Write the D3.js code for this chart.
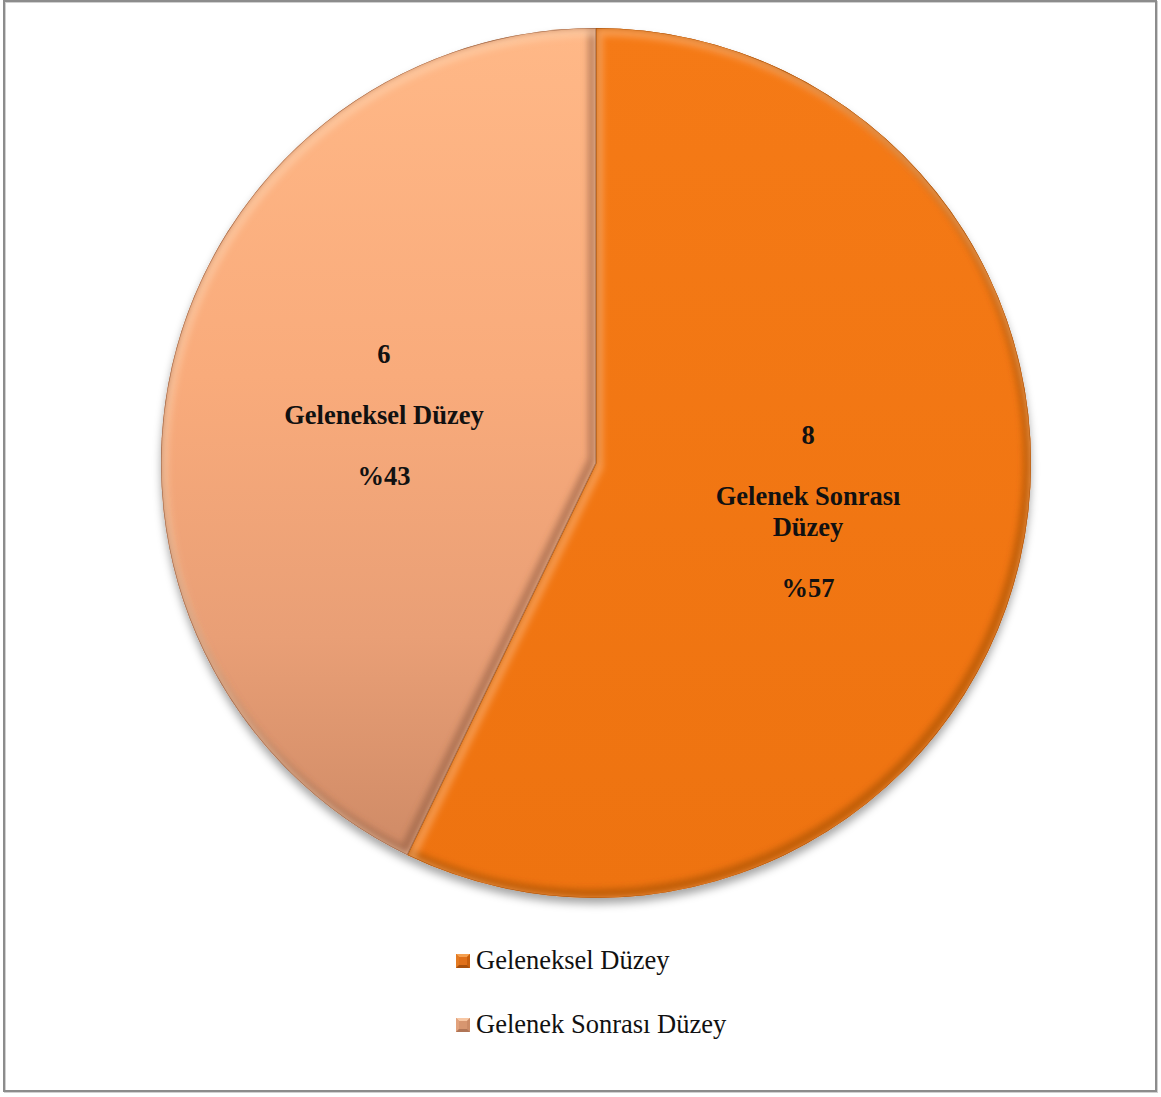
<!DOCTYPE html>
<html>
<head>
<meta charset="utf-8">
<script src="https://cdn.jsdelivr.net/npm/d3@7"></script>
<style>
  html, body { margin: 0; padding: 0; background: #fff; }
  svg { display: block; }
</style>
</head>
<body>
<svg id="chart" width="1161" height="1097"></svg>
<script>
// Slice values (clockwise from 12 o'clock)
const values = [8, 6];
// Text written inside each slice
const sliceLabels = ["Gelenek Sonrası Düzey", "Geleneksel Düzey"];
// Legend entries
const legendNames = ["Geleneksel Düzey", "Gelenek Sonrası Düzey"];

const svg = d3.select("#chart");
const W = 1161, H = 1097;
const cx = 596, cy = 463, R = 435;
const FONT = "'Liberation Serif', 'Times New Roman', serif";

const defs = svg.append("defs");

// Frame around the chart area
svg.append("rect").attr("x", 5).attr("y", 2).attr("width", W - 9).attr("height", H - 7)
  .attr("fill", "none").attr("stroke", "#d0d0d0").attr("stroke-width", 2);
svg.append("rect").attr("x", 4).attr("y", 1).attr("width", W - 9).attr("height", H - 7)
  .attr("fill", "none").attr("stroke", "#8c8c8c").attr("stroke-width", 2);

// Gradients (slice paths are drawn in pie-centred coordinates)
const gOrange = defs.append("linearGradient").attr("id", "gOrange")
  .attr("gradientUnits", "userSpaceOnUse")
  .attr("x1", 0).attr("y1", -R).attr("x2", 0).attr("y2", R);
gOrange.append("stop").attr("offset", "0%").attr("stop-color", "#f57a16");
gOrange.append("stop").attr("offset", "100%").attr("stop-color", "#ee7310");

const gPeach = defs.append("linearGradient").attr("id", "gPeach")
  .attr("gradientUnits", "userSpaceOnUse")
  .attr("x1", 0).attr("y1", -R).attr("x2", 0).attr("y2", R);
gPeach.append("stop").attr("offset", "0%").attr("stop-color", "#ffb887");
gPeach.append("stop").attr("offset", "40%").attr("stop-color", "#f9ab7b");
gPeach.append("stop").attr("offset", "70%").attr("stop-color", "#e99f76");
gPeach.append("stop").attr("offset", "92%").attr("stop-color", "#d28d68");
gPeach.append("stop").attr("offset", "100%").attr("stop-color", "#c98462");

const fills = ["url(#gOrange)", "url(#gPeach)"];
const edgeDark = ["#9a4a08", "#8d5a3e"];
const edgeLight = ["#ffc08a", "#ffd9b8"];

// Shadow and bevel filters
const shadow = defs.append("filter").attr("id", "shadow")
  .attr("x", "-10%").attr("y", "-10%").attr("width", "120%").attr("height", "120%");
shadow.append("feDropShadow").attr("dx", 0).attr("dy", 6).attr("stdDeviation", 4)
  .attr("flood-color", "#000").attr("flood-opacity", 0.35);

const blur = defs.append("filter").attr("id", "soft");
blur.append("feGaussianBlur").attr("stdDeviation", 3);

const pie = d3.pie().sort(null).value(d => d);
const arcs = pie(values);
const arc = d3.arc().innerRadius(0).outerRadius(R);

const g = svg.append("g").attr("transform", `translate(${cx},${cy})`);

// Shadow under the whole pie
g.append("g").attr("filter", "url(#shadow)")
  .selectAll("path").data(arcs).join("path")
  .attr("d", arc).attr("fill", (d, i) => fills[i]);

// Slices with bevel
arcs.forEach((d, i) => {
  const id = "clip" + i;
  defs.append("clipPath").attr("id", id)
    .append("path").attr("d", arc(d)).attr("transform", `translate(${cx},${cy})`);
  const sg = svg.append("g").attr("clip-path", `url(#${id})`);
  const inner = sg.append("g").attr("transform", `translate(${cx},${cy})`);
  inner.append("path").attr("d", arc(d)).attr("fill", fills[i]);
  // darker rim along the lower-right edges
  inner.append("path").attr("d", arc(d)).attr("fill", "none")
    .attr("stroke", edgeDark[i]).attr("stroke-width", 10).attr("stroke-opacity", 0.55)
    .attr("filter", "url(#soft)").attr("transform", "translate(-3,-4)");
  // light rim along the upper-left edges
  inner.append("path").attr("d", arc(d)).attr("fill", "none")
    .attr("stroke", edgeLight[i]).attr("stroke-width", 8).attr("stroke-opacity", 0.5)
    .attr("filter", "url(#soft)").attr("transform", "translate(3,4)");
  inner.append("path").attr("d", arc(d)).attr("fill", "none")
    .attr("stroke", edgeDark[i]).attr("stroke-width", 1.2).attr("stroke-opacity", 0.75);
});

// Slice labels: value, name, percent
const total = d3.sum(values);
const lineGap = 30.5;
arcs.forEach((d, i) => {
  const [lx, ly] = arc.centroid(d);
  const x = cx + lx, y = cy + ly;
  const pct = "%" + Math.round(d.value / total * 100);
  const name = sliceLabels[i];
  let nameLines;
  if (d.index === 0) {
    const k = name.lastIndexOf(" ");
    nameLines = [name.slice(0, k), name.slice(k + 1)];
  } else {
    nameLines = [name];
  }
  // Stack: value, blank, name lines, blank, percent
  const lines = [String(d.value), "", ...nameLines, "", pct];
  const n = lines.length;
  const t = svg.append("text")
    .attr("font-family", FONT)
    .attr("font-weight", "bold").attr("font-size", 26.5).attr("fill", "#111")
    .attr("text-anchor", "middle");
  lines.forEach((s, j) => {
    if (!s) return;
    t.append("tspan").attr("x", x)
      .attr("y", y + (j - (n - 1) / 2) * lineGap + 9)
      .text(s);
  });
});

// Legend with pyramid-shaded markers
const legendColors = [
  { top: "#f5a050", left: "#e37a22", right: "#c95f0c", bottom: "#a9500c", mid: "#e0701a" },
  { top: "#f7c7a4", left: "#e2a27c", right: "#cc8b66", bottom: "#b07556", mid: "#d79670" }
];
const lg = svg.append("g");
legendNames.forEach((name, i) => {
  const x0 = 456, y0 = 954 + i * 64, s = 14;
  const c = legendColors[i];
  const m = lg.append("g").attr("transform", `translate(${x0},${y0})`);
  const b = 3;
  m.append("rect").attr("width", s).attr("height", s).attr("fill", c.mid);
  m.append("path").attr("d", `M0,0 L${s},0 L${s - b},${b} L${b},${b} Z`).attr("fill", c.top);
  m.append("path").attr("d", `M0,0 L${b},${b} L${b},${s - b} L0,${s} Z`).attr("fill", c.left);
  m.append("path").attr("d", `M${s},0 L${s},${s} L${s - b},${s - b} L${s - b},${b} Z`).attr("fill", c.right);
  m.append("path").attr("d", `M0,${s} L${b},${s - b} L${s - b},${s - b} L${s},${s} Z`).attr("fill", c.bottom);
  lg.append("text").attr("x", x0 + 20).attr("y", y0 + 15)
    .attr("font-family", FONT)
    .attr("font-size", 26.5).attr("fill", "#111")
    .text(name);
});
</script>
</body>
</html>
